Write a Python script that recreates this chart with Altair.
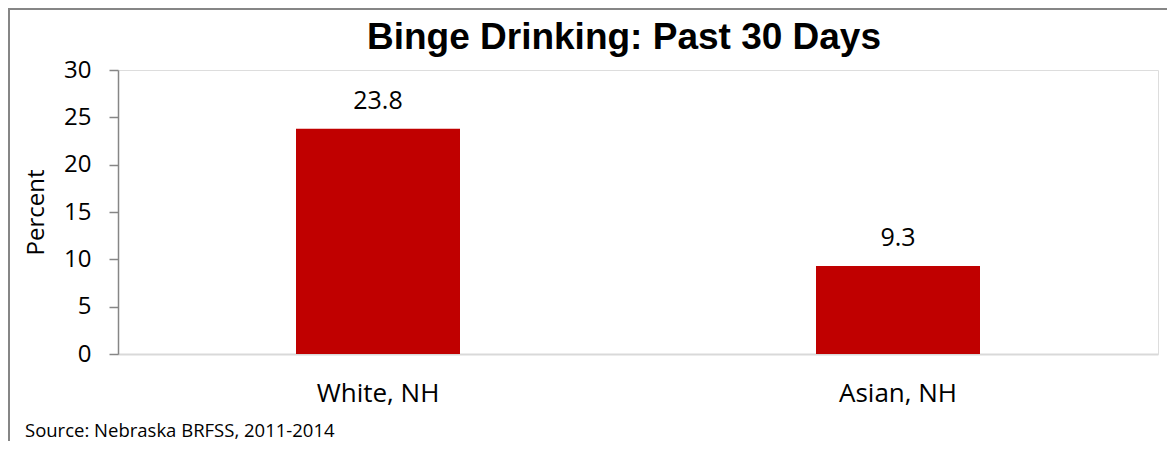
import altair as alt
import pandas as pd

categories = ["White, NH", "Asian, NH"]
values = [23.8, 9.3]
y_ticks = [0, 5, 10, 15, 20, 25, 30]

df = pd.DataFrame({"group": categories, "pct": values})

W, H = 1040, 284
FONT = "Open Sans"

x_enc = alt.X("group:N", sort=categories,
              scale=alt.Scale(paddingInner=0, paddingOuter=0),
              axis=alt.Axis(title=None, labelAngle=0, labelFont=FONT, labelFontSize=26,
                            labelColor="#000000", ticks=False, tickSize=0, labelPadding=26.5,
                            domainColor="#d9d9d9", domainWidth=2))
y_enc = alt.Y("pct:Q", scale=alt.Scale(domain=[0, 30], nice=False),
              axis=alt.Axis(values=y_ticks, grid=False, title="Percent",
                            titleFont=FONT, titleFontSize=24, titleFontWeight="normal",
                            titleColor="#000000", titleX=-82, titleY=H / 2, titleAngle=-90,
                            titleBaseline="middle",
                            labelFont=FONT, labelFontSize=24, labelColor="#000000",
                            labelPadding=18, tickSize=9, tickColor="#868686",
                            domainColor="#868686", domainWidth=1.5, tickWidth=1.5))

base = alt.Chart(df)
bars = base.mark_bar(color="#C00000", size=164).encode(x=x_enc, y=y_enc)
labels = base.mark_text(font=FONT, fontSize=25, baseline="alphabetic", dy=-20,
                        color="#000000").encode(
    x=alt.X("group:N", sort=categories), y="pct:Q", text=alt.Text("pct:Q", format=".1f"))

one = alt.Data(values=[{"a": 1}])
title = alt.Chart(one).mark_text(text="Binge Drinking: Past 30 Days", font="Liberation Sans",
                                 fontSize=37, fontWeight="bold", align="center",
                                 baseline="alphabetic", color="#000000").encode(
    x=alt.value(506), y=alt.value(-21))
source = alt.Chart(one).mark_text(text="Source: Nebraska BRFSS, 2011-2014", font=FONT,
                                  fontSize=18.5, align="left", baseline="alphabetic",
                                  color="#000000").encode(
    x=alt.value(-93), y=alt.value(367))
border_left = alt.Chart(one).mark_rule(color="#868686", strokeWidth=2).encode(
    x=alt.value(-109), y=alt.value(-61), y2=alt.value(H + 87))
border_top = alt.Chart(one).mark_rule(color="#868686", strokeWidth=2).encode(
    x=alt.value(-110), x2=alt.value(W + 9), y=alt.value(-61))

chart = alt.layer(bars, labels, title, source, border_left, border_top).properties(
    width=W, height=H,
    autosize=alt.AutoSizeParams(type="none"),
    padding={"left": 110, "top": 62, "right": 9, "bottom": 87},
).configure_view(stroke=None).configure(background="#ffffff")

chart.save("out.html", embed_options={"renderer": "svg", "actions": False})
